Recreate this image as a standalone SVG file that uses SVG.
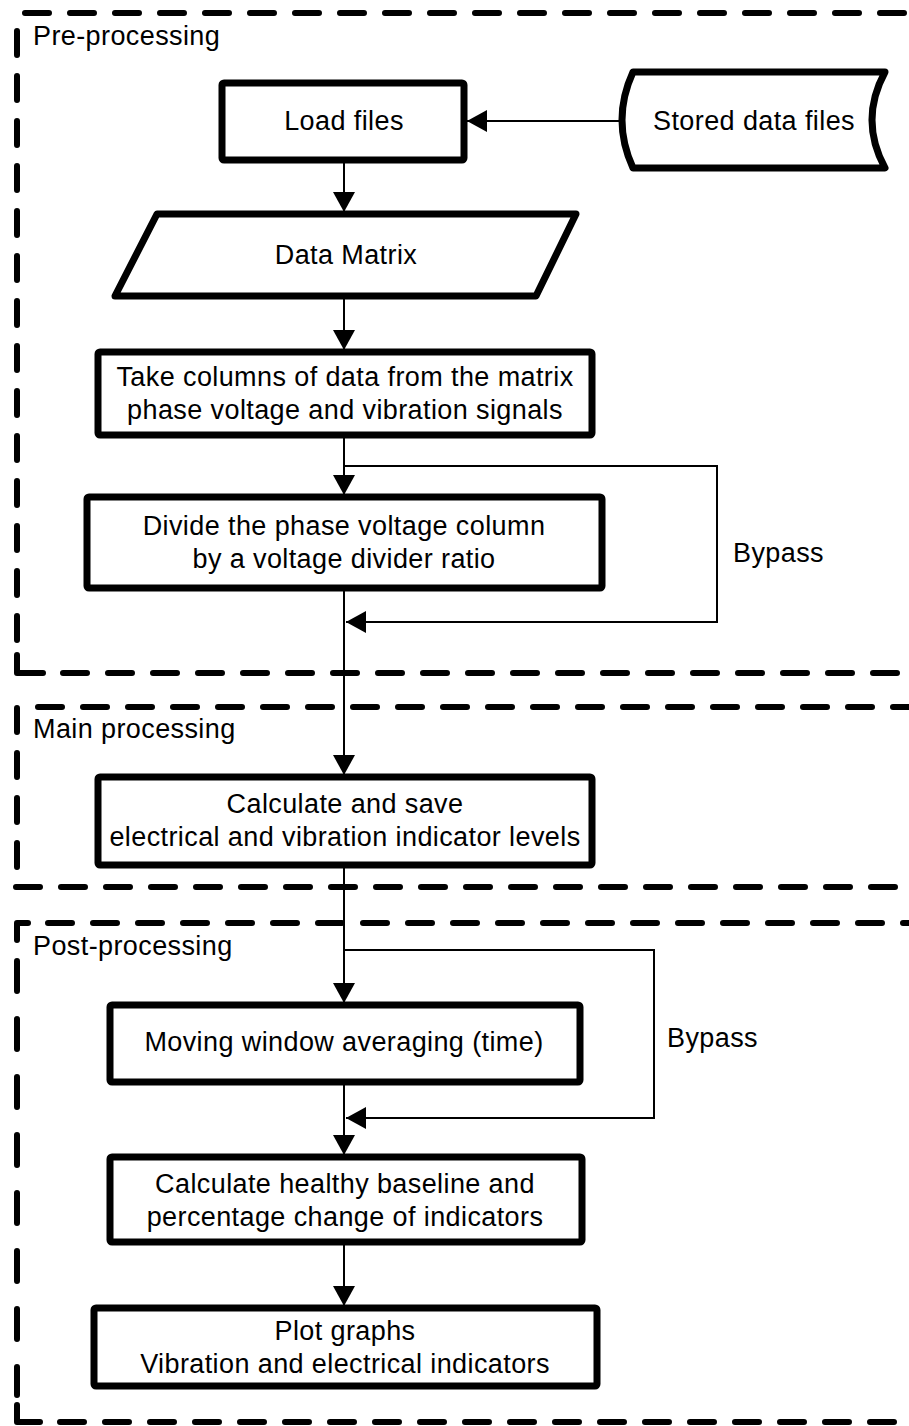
<svg xmlns="http://www.w3.org/2000/svg" width="909" height="1426" viewBox="0 0 909 1426">
<style>
  .t{font-family:"Liberation Sans",Arial,sans-serif;font-size:27px;fill:#000;letter-spacing:0.4px}
  .c{text-anchor:middle}
  .box{fill:#fff;stroke:#000;stroke-width:7;stroke-linejoin:round}
  .dash{fill:none;stroke:#000;stroke-width:6;stroke-linecap:round;stroke-dasharray:24 21}
  .dash2{fill:none;stroke:#000;stroke-width:6;stroke-linecap:round;stroke-dasharray:30 28}
  .solid{fill:none;stroke:#000;stroke-width:6;stroke-linecap:round;stroke-linejoin:round}
  .con{fill:none;stroke:#000;stroke-width:2}
</style>
<defs>
  <marker id="ah" markerUnits="userSpaceOnUse" markerWidth="22" markerHeight="24" refX="20" refY="11" orient="auto">
    <path d="M0,0 L20,11 L0,22 Z" fill="#000"/>
  </marker>
</defs>
<rect width="909" height="1426" fill="#fff"/>

<g id="lanes">
  <g id="lane-pre">
    <path class="dash" d="M25,13 H930"/>
    <path class="dash" d="M17,31 V640"/>
    <path class="solid" d="M17,655 V673 H43"/>
    <path class="dash" d="M63,673 H930"/>
    <text class="t" x="33" y="45">Pre-processing</text>
  </g>
  <g id="lane-main">
    <path class="dash" d="M38,707 H930"/>
    <path class="dash" d="M17,708 V870"/>
    <path class="dash" d="M16,887 H930"/>
    <text class="t" x="33" y="738">Main processing</text>
  </g>
  <g id="lane-post">
    <path class="solid" d="M17,940 V923 H28"/>
    <path class="dash" d="M48,923 H930"/>
    <path class="dash2" d="M17,961 V1395"/>
    <path class="solid" d="M17,1405 V1422 H40"/>
    <path class="dash" d="M60,1422 H930"/>
    <text class="t" x="33" y="955">Post-processing</text>
  </g>
</g>

<g id="connectors">
  <path class="con" d="M624,121 H467" marker-end="url(#ah)"/>
  <path class="con" d="M344,160 V212" marker-end="url(#ah)"/>
  <path class="con" d="M344,297 V350" marker-end="url(#ah)"/>
  <path class="con" d="M344,435 V495" marker-end="url(#ah)"/>
  <path class="con" d="M344,466 H717 V622 H346" marker-end="url(#ah)"/>
  <path class="con" d="M344,588 V775" marker-end="url(#ah)"/>
  <path class="con" d="M344,865 V1003" marker-end="url(#ah)"/>
  <path class="con" d="M344,950 H654 V1118 H346" marker-end="url(#ah)"/>
  <path class="con" d="M344,1082 V1155" marker-end="url(#ah)"/>
  <path class="con" d="M344,1242 V1306" marker-end="url(#ah)"/>
  <text class="t" x="733" y="562">Bypass</text>
  <text class="t" x="667" y="1047">Bypass</text>
</g>

<g id="n-stored">
  <path class="box" d="M633,72 L885,72 Q859,120 885,168 L633,168 Q611,120 633,72 Z"/>
  <text class="t c" x="754" y="130">Stored data files</text>
</g>
<g id="n-load">
  <rect class="box" x="222" y="83" width="242" height="77" rx="2"/>
  <text class="t c" x="344" y="130">Load files</text>
</g>
<g id="n-matrix">
  <path class="box" d="M157,214 L576,214 L536,296 L115,296 Z"/>
  <text class="t c" x="346" y="264">Data Matrix</text>
</g>
<g id="n-take">
  <rect class="box" x="98" y="352" width="494" height="83" rx="2"/>
  <text class="t c" x="345" y="386">Take columns of data from the matrix</text>
  <text class="t c" x="345" y="419">phase voltage and vibration signals</text>
</g>
<g id="n-divide">
  <rect class="box" x="87" y="497" width="515" height="91" rx="2"/>
  <text class="t c" x="344" y="535">Divide the phase voltage column</text>
  <text class="t c" x="344" y="568">by a voltage divider ratio</text>
</g>
<g id="n-calc">
  <rect class="box" x="98" y="777" width="494" height="88" rx="2"/>
  <text class="t c" x="345" y="813">Calculate and save</text>
  <text class="t c" x="345" y="846">electrical and vibration indicator levels</text>
</g>
<g id="n-moving">
  <rect class="box" x="110" y="1005" width="470" height="77" rx="2"/>
  <text class="t c" x="344" y="1051">Moving window averaging (time)</text>
</g>
<g id="n-healthy">
  <rect class="box" x="110" y="1157" width="472" height="85" rx="2"/>
  <text class="t c" x="345" y="1193">Calculate healthy baseline and</text>
  <text class="t c" x="345" y="1226">percentage change of indicators</text>
</g>
<g id="n-plot">
  <rect class="box" x="94" y="1308" width="503" height="78" rx="2"/>
  <text class="t c" x="345" y="1340">Plot graphs</text>
  <text class="t c" x="345" y="1373">Vibration and electrical indicators</text>
</g>
</svg>
